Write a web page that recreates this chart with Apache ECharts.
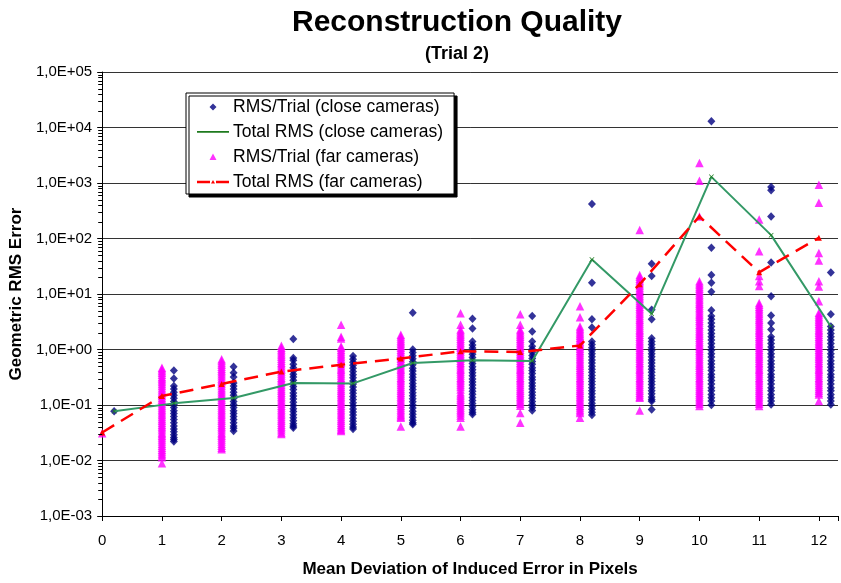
<!DOCTYPE html>
<html>
<head>
<meta charset="utf-8">
<script src="https://cdn.jsdelivr.net/npm/echarts@6/dist/echarts.min.js"></script>
<style>html,body{margin:0;padding:0;background:#fff}#c{width:841px;height:583px}</style>
</head>
<body>
<div id="c"></div>
<script>
// ---- data ----
const farX = [0,1,2,3,4,5,6,7,8,9,10,11,12];
const closeX = [0.2,1.2,2.2,3.2,4.2,5.2,6.2,7.2,8.2,9.2,10.2,11.2,12.2];

const farTrials = [
  [0.031],
  [0.47,0.44,0.41,0.38,0.35,0.32,0.3,0.28,0.26,0.24,0.22,0.2,0.185,0.17,0.157,0.145,0.134,0.124,0.115,0.106,0.098,0.09,0.083,0.077,0.071,0.066,0.061,0.056,0.052,0.048,0.044,0.041,0.038,0.035,0.032,0.03,0.028,0.026,0.024,0.022,0.02,0.0185,0.017,0.0157,0.0145,0.0134,0.0124,0.0115,0.0089],
  [0.67,0.62,0.57,0.53,0.49,0.45,0.42,0.39,0.36,0.33,0.3,0.28,0.26,0.24,0.22,0.2,0.185,0.17,0.157,0.145,0.134,0.124,0.115,0.106,0.098,0.09,0.083,0.077,0.071,0.066,0.061,0.056,0.052,0.048,0.044,0.041,0.038,0.035,0.032,0.03,0.028,0.026,0.024,0.022,0.02,0.0185,0.017,0.016],
  [1.17,1.08,1.0,0.93,0.86,0.8,0.74,0.68,0.63,0.58,0.54,0.5,0.46,0.43,0.4,0.37,0.34,0.31,0.29,0.27,0.25,0.23,0.21,0.195,0.18,0.167,0.155,0.143,0.132,0.122,0.113,0.105,0.097,0.09,0.083,0.077,0.071,0.066,0.061,0.056,0.052,0.048,0.044,0.041,0.038,0.035,0.032,0.03],
  [2.8,1.7,1.58,1.15,1.07,0.99,0.92,0.85,0.79,0.73,0.68,0.63,0.58,0.54,0.5,0.46,0.43,0.4,0.37,0.34,0.31,0.29,0.27,0.25,0.23,0.21,0.195,0.18,0.167,0.155,0.143,0.132,0.122,0.113,0.105,0.097,0.09,0.083,0.077,0.071,0.066,0.061,0.056,0.052,0.048,0.044,0.041,0.038,0.036,0.034],
  [1.85,1.71,1.58,1.46,1.35,1.25,1.16,1.07,0.99,0.92,0.85,0.79,0.73,0.68,0.63,0.58,0.54,0.5,0.46,0.43,0.4,0.37,0.34,0.31,0.29,0.27,0.25,0.23,0.21,0.195,0.18,0.167,0.155,0.143,0.132,0.122,0.113,0.105,0.097,0.09,0.083,0.077,0.071,0.066,0.062,0.059,0.041],
  [4.5,2.8,2.3,2.13,1.97,1.82,1.69,1.56,1.45,1.34,1.24,1.15,1.07,0.99,0.92,0.85,0.79,0.73,0.68,0.63,0.58,0.54,0.5,0.46,0.43,0.4,0.37,0.34,0.31,0.29,0.27,0.25,0.23,0.21,0.19,0.17,0.157,0.145,0.134,0.124,0.115,0.106,0.098,0.09,0.083,0.077,0.071,0.065,0.059,0.041],
  [4.3,2.8,2.3,2.13,1.97,1.82,1.69,1.56,1.45,1.34,1.24,1.15,1.07,0.99,0.92,0.85,0.79,0.73,0.68,0.63,0.58,0.54,0.5,0.46,0.43,0.4,0.37,0.34,0.31,0.29,0.27,0.25,0.23,0.21,0.195,0.18,0.167,0.155,0.143,0.132,0.122,0.113,0.105,0.097,0.072,0.048],
  [6.0,3.8,2.6,2.4,2.22,2.05,1.9,1.76,1.63,1.51,1.4,1.3,1.2,1.11,1.03,0.95,0.88,0.81,0.75,0.69,0.64,0.59,0.55,0.51,0.47,0.43,0.4,0.37,0.34,0.31,0.29,0.27,0.25,0.23,0.21,0.195,0.18,0.167,0.155,0.143,0.132,0.122,0.113,0.105,0.097,0.09,0.083,0.077,0.072,0.059],
  [142,22,20.4,18.9,17.5,16.2,15,13.9,12.8,11.9,11,10.2,9.4,8.7,8.1,7.5,6.9,6.4,5.9,5.5,5.1,4.7,4.35,4.0,3.7,3.45,3.2,2.95,2.7,2.5,2.3,2.15,2.0,1.85,1.7,1.58,1.46,1.35,1.25,1.16,1.07,0.99,0.92,0.85,0.79,0.73,0.68,0.63,0.58,0.54,0.5,0.46,0.43,0.4,0.37,0.34,0.31,0.29,0.27,0.25,0.23,0.21,0.195,0.18,0.167,0.155,0.143,0.135,0.08],
  [2300,1100,250,17,15.7,14.5,13.4,12.4,11.5,10.6,9.8,9.1,8.4,7.8,7.2,6.7,6.2,5.7,5.3,4.9,4.5,4.2,3.9,3.6,3.3,3.05,2.8,2.6,2.4,2.2,2.05,1.9,1.76,1.63,1.51,1.4,1.3,1.2,1.11,1.03,0.95,0.88,0.81,0.75,0.69,0.64,0.59,0.55,0.51,0.47,0.43,0.4,0.37,0.34,0.31,0.29,0.27,0.25,0.23,0.21,0.195,0.18,0.167,0.155,0.143,0.132,0.122,0.113,0.105,0.096],
  [220,59,21,17,14,6.9,6.4,5.9,5.5,5.1,4.7,4.35,4.0,3.7,3.45,3.2,2.95,2.7,2.5,2.3,2.15,2.0,1.85,1.7,1.58,1.46,1.35,1.25,1.16,1.07,0.99,0.92,0.85,0.79,0.73,0.68,0.63,0.58,0.54,0.5,0.46,0.43,0.4,0.37,0.34,0.31,0.29,0.27,0.25,0.23,0.21,0.195,0.18,0.167,0.155,0.143,0.132,0.122,0.113,0.105,0.096],
  [930,440,55,40,17,13.6,7.4,4.6,4.25,3.95,3.65,3.4,3.15,2.9,2.7,2.5,2.3,2.15,2.0,1.85,1.7,1.58,1.46,1.35,1.25,1.16,1.07,0.99,0.92,0.85,0.79,0.73,0.68,0.63,0.58,0.54,0.5,0.46,0.43,0.4,0.37,0.34,0.31,0.29,0.27,0.25,0.23,0.21,0.195,0.18,0.167,0.155,0.118]
];

const closeTrials = [
  [0.077],
  [0.42,0.3,0.22,0.195,0.17,0.15,0.132,0.116,0.102,0.09,0.079,0.07,0.062,0.055,0.048,0.042,0.037,0.033,0.029,0.026,0.024,0.022],
  [0.49,0.38,0.32,0.25,0.22,0.195,0.17,0.15,0.132,0.116,0.102,0.09,0.079,0.07,0.062,0.055,0.048,0.042,0.038,0.034],
  [1.55,0.7,0.64,0.54,0.47,0.41,0.36,0.32,0.28,0.245,0.215,0.19,0.165,0.145,0.128,0.112,0.098,0.086,0.076,0.067,0.059,0.052,0.046,0.042,0.039],
  [0.76,0.67,0.59,0.52,0.46,0.4,0.35,0.31,0.27,0.24,0.21,0.185,0.162,0.143,0.126,0.11,0.097,0.085,0.075,0.066,0.058,0.051,0.045,0.04,0.037],
  [4.6,1.0,0.88,0.77,0.68,0.6,0.53,0.46,0.41,0.36,0.315,0.28,0.245,0.215,0.19,0.167,0.147,0.13,0.114,0.1,0.088,0.077,0.068,0.06,0.053,0.048,0.045],
  [3.6,2.4,1.4,1.2,1.06,0.93,0.82,0.72,0.63,0.56,0.49,0.43,0.38,0.335,0.295,0.26,0.23,0.2,0.177,0.156,0.137,0.12,0.106,0.093,0.082,0.074,0.068],
  [4.0,2.1,1.4,1.15,1.01,0.89,0.78,0.69,0.61,0.54,0.47,0.42,0.37,0.32,0.285,0.25,0.22,0.195,0.17,0.15,0.132,0.116,0.102,0.09,0.08],
  [417,16,3.5,2.5,1.4,1.23,1.08,0.95,0.84,0.74,0.65,0.57,0.5,0.44,0.39,0.34,0.3,0.265,0.235,0.205,0.18,0.16,0.14,0.123,0.108,0.095,0.084,0.074,0.066],
  [35,21,5.2,3.5,1.6,1.4,1.23,1.08,0.95,0.84,0.74,0.65,0.57,0.5,0.44,0.39,0.34,0.3,0.265,0.235,0.205,0.18,0.16,0.14,0.125,0.117,0.083],
  [12900,68,22,16,11,5.1,4.0,3.5,3.0,2.6,2.25,1.95,1.7,1.48,1.28,1.11,0.97,0.84,0.73,0.63,0.55,0.48,0.42,0.36,0.315,0.275,0.24,0.205,0.18,0.155,0.135,0.118,0.1],
  [850,740,250,37,9.1,4.1,3.0,2.3,1.7,1.48,1.28,1.11,0.97,0.84,0.73,0.63,0.55,0.48,0.42,0.36,0.315,0.275,0.24,0.205,0.18,0.155,0.135,0.118,0.102],
  [24.5,4.3,2.6,2.25,1.95,1.7,1.48,1.28,1.11,0.97,0.84,0.73,0.63,0.55,0.48,0.42,0.36,0.315,0.275,0.24,0.205,0.18,0.155,0.135,0.118,0.102]
];

const totalClose = [0.077,0.107,0.134,0.25,0.245,0.57,0.64,0.62,42,4.4,1290,115,2.6];
const totalFar = [0.032,0.145,0.24,0.4,0.53,0.69,0.93,0.9,1.18,15,250,24.6,103];

const xTicks = [0,1,2,3,4,5,6,7,8,9,10,11,12];
const minorSteps = [2,3,4,5,6,7,8,9];
const decades = [0.001,0.01,0.1,1,10,100,1000,10000];
const seriesNames = ['RMS/Trial (close cameras)','Total RMS (close cameras)','RMS/Trial (far cameras)','Total RMS (far cameras)'];

// ---- build ----
function pts(xs, cols){ const out=[]; cols.forEach((c,i)=>c.forEach(v=>out.push([xs[i],v]))); return out; }
function line(xs, vs){ return xs.map((x,i)=>[x,vs[i]]); }

const FONT = '"Liberation Sans", Arial, sans-serif';
const corners = 'M0,0L0.01,0L0,0.01Z M32,14L31.99,14L32,13.99Z ';
const iconDiamond = 'path://' + corners + 'M16,3.5L19.5,7L16,10.5L12.5,7Z';
const iconTri = 'path://' + corners + 'M16,3.5L19.5,10L12.5,10Z';
const iconGreen = 'path://' + corners + 'M0,6L32,6L32,7.8L0,7.8Z';
const iconRed = 'path://' + corners + 'M0,5.8L13,5.8L13,8.2L0,8.2Z M19,5.8L32,5.8L32,8.2L19,8.2Z M16,5L18,8.5L14,8.5Z';
const xMark = 'path://M0,1L1,0L5,4L9,0L10,1L6,5L10,9L9,10L5,6L1,10L0,9L4,5Z';

function fmtY(v){
  const e = Math.round(Math.log10(v));
  return '1,0E' + (e < 0 ? '-' : '+') + String(Math.abs(e)).padStart(2,'0');
}

// minor tick values (2..9 x each decade), placed through the axis scale by a custom series
const minorVals = [];
decades.forEach(d => minorSteps.forEach(k => minorVals.push([0, +(k * d).toPrecision(3)])));

const chart = echarts.init(document.getElementById('c'), null, {renderer:'canvas'});
chart.setOption({
  animation: false,
  backgroundColor: '#ffffff',
  textStyle: {fontFamily: FONT},
  title: [
    {text: 'Reconstruction Quality', left: 452, top: 3, textAlign: 'center',
     textStyle: {fontFamily: FONT, fontSize: 30, fontWeight: 'bold', color: '#000'}},
    {text: '(Trial 2)', left: 452, top: 40, textAlign: 'center',
     textStyle: {fontFamily: FONT, fontSize: 18, fontWeight: 'bold', color: '#000'}}
  ],
  grid: {left: 102, right: 0, top: 72, bottom: 66, containLabel: false},
  legend: {
    left: 186, top: 93, orient: 'vertical',
    padding: [5, 11, 3, 11], itemGap: 7, itemWidth: 32, itemHeight: 14,
    backgroundColor: '#fff', borderColor: '#000', borderWidth: 1,
    shadowColor: '#000', shadowBlur: 0, shadowOffsetX: 3, shadowOffsetY: 3,
    textStyle: {fontFamily: FONT, fontSize: 17.5, color: '#000', padding: [0,0,0,-1]},
    data: [
      {name: seriesNames[0], icon: iconDiamond},
      {name: seriesNames[1], icon: iconGreen},
      {name: seriesNames[2], icon: iconTri},
      {name: seriesNames[3], icon: iconRed}
    ]
  },
  xAxis: {
    type: 'value', min: 0, max: 12.32, interval: 1,
    name: 'Mean Deviation of Induced Error in Pixels', nameLocation: 'middle', nameGap: 45,
    nameTextStyle: {fontFamily: FONT, fontSize: 17, fontWeight: 'bold', color: '#000'},
    axisLine: {show: true, onZero: false, lineStyle: {color: '#000', width: 1}},
    axisTick: {show: true, length: 5, inside: false, lineStyle: {color: '#000'}},
    axisLabel: {fontFamily: FONT, fontSize: 15, color: '#000', margin: 17,
      formatter: v => (xTicks.indexOf(v) >= 0 ? String(v) : '')},
    splitLine: {show: false}
  },
  yAxis: {
    type: 'log', logBase: 10, min: 0.001, max: 100000, splitNumber: 8,
    name: 'Geometric RMS Error', nameLocation: 'middle', nameGap: 75,
    nameTextStyle: {fontFamily: FONT, fontSize: 17, fontWeight: 'bold', color: '#000'},
    axisLine: {show: true, lineStyle: {color: '#000', width: 1}},
    axisTick: {show: true, length: 5, inside: false, lineStyle: {color: '#000'}},
    axisLabel: {fontFamily: FONT, fontSize: 15, color: '#000', margin: 10, formatter: fmtY},
    splitLine: {show: true, lineStyle: {color: '#333', width: 1}}
  },
  series: [
    {name: seriesNames[0], type: 'scatter', data: pts(closeX, closeTrials),
     symbol: 'diamond', symbolSize: [8, 8.5], itemStyle: {color: '#000080'}, z: 2},
    {name: seriesNames[2], type: 'scatter', data: pts(farX, farTrials),
     symbol: 'triangle', symbolSize: [8.5, 8.5], itemStyle: {color: '#FF00FF'}, z: 2},
    {name: seriesNames[1], type: 'line', data: line(closeX, totalClose), smooth: false,
     symbol: xMark, symbolSize: 5, showSymbol: true,
     lineStyle: {color: '#339966', width: 2}, itemStyle: {color: '#1E7A1E'}, z: 3},
    {name: seriesNames[3], type: 'line', data: line(farX, totalFar),
     symbol: 'triangle', symbolSize: 6, showSymbol: true,
     lineStyle: {color: '#FF0000', width: 2.5, type: [14, 8]}, itemStyle: {color: '#FF0000'}, z: 4},
    {name: 'minorTicks', type: 'custom', data: minorVals, silent: true, clip: false, z: 10,
     encode: {x: 0, y: 1},
     renderItem: function (params, api) {
       const p = api.coord([api.value(0), api.value(1)]);
       const y = Math.round(p[1]) + 0.5;
       return {type: 'line', shape: {x1: p[0] - 4, y1: y, x2: p[0], y2: y},
               style: {stroke: '#000', lineWidth: 1}};
     }}
  ]
});
</script>
</body>
</html>
